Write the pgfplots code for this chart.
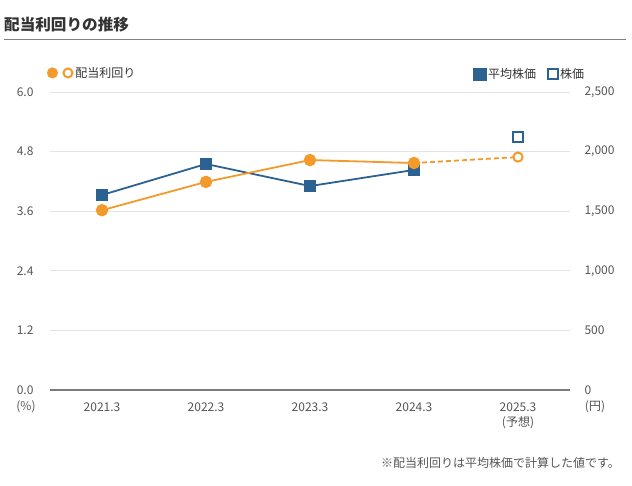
\documentclass[border=0pt]{standalone}
\usepackage{fontspec}
\setmainfont{Noto Sans CJK JP}
\usepackage{pgfplots}
\pgfplotsset{compat=1.18}
\definecolor{dyorange}{HTML}{F39A2B}
\definecolor{pblue}{HTML}{2C6291}
\definecolor{txtgray}{HTML}{555555}
\definecolor{gridgray}{HTML}{E3E3E3}
\definecolor{axgray}{HTML}{7A7A7A}
\begin{document}
\begin{tikzpicture}[x=1pt,y=1pt]
\path[use as bounding box] (0,0) rectangle (632,485);
\node[anchor=west, font=\fontsize{15.6}{18}\selectfont\bfseries, text=black!80, inner sep=0pt] at (4,460) {配当利回りの推移};
\draw[black!50, line width=1pt] (4,445) -- (626,445);
\pgfplotsset{myax/.style={
  scale only axis, width=520pt, height=298pt, at={(50pt,95pt)}, anchor=south west,
  xmin=-0.5, xmax=4.5, major tick length=0pt,
  tick label style={font=\fontsize{12}{15}\selectfont, text=txtgray},
  /pgf/number format/assume math mode=true,
  legend style={draw=none, fill=none, font=\fontsize{12}{14}\selectfont, text=black!80},
}}
% price axis (right)
\begin{axis}[myax,
  ymin=0, ymax=2500, ytick={0,500,1000,1500,2000,2500},
  axis y line*=right, y axis line style={draw=none},
  axis x line*=bottom, x axis line style={axgray, line width=1.8pt, -},
  xtick={0,1,2,3,4}, xticklabels={2021.3,2022.3,2023.3,2024.3,{2025.3\\(予想)}},
  xticklabel style={align=center, yshift=-9pt},
  yticklabel style={anchor=west, xshift=11pt},
  /pgf/number format/1000 sep={,},
  ymajorgrids, grid style={gridgray, line width=0.8pt},
  legend columns=2,
  legend style={at={(1.037,1.06)}, anchor=east,
    /tikz/every odd column/.append style={column sep=0pt},
    /tikz/every even column/.append style={column sep=10pt}},
  legend cell align=left,
]
\addlegendimage{only marks, mark=square*, mark size=6.3pt, pblue}
\addlegendentry{平均株価}
\addlegendimage{only marks, mark=square, mark size=5pt, pblue, mark options={line width=2pt, fill=white}}
\addlegendentry{株価}
\addplot[pblue, line width=1.8pt, mark=square*, mark size=5.4pt, forget plot] coordinates {(0,1636)(1,1896)(2,1711)(3,1846)};
\addplot[only marks, pblue, mark=square, mark size=5pt, mark options={line width=2pt, fill=white}, forget plot] coordinates {(4,2122)};
\end{axis}
% yield axis (left)
\begin{axis}[myax,
  ymin=0, ymax=6, ytick={0,1.2,2.4,3.6,4.8,6},
  axis y line*=left, y axis line style={draw=none},
  axis x line=none,
  yticklabel style={anchor=east, xshift=-13pt, /pgf/number format/.cd, fixed, fixed zerofill, precision=1},
  legend style={at={(-0.012,1.064)}, anchor=west},
]
\addlegendimage{legend image code/.code={
  \fill[dyorange] (0pt,0pt) circle (5.3pt);
  \draw[dyorange, fill=white, line width=2pt] (15.5pt,0pt) circle (4.5pt);}}
\addlegendentry{配当利回り}
\addplot[dyorange, line width=1.8pt, dash pattern=on 5pt off 3pt, forget plot] coordinates {(3,4.57)(4,4.69)};
\addplot[dyorange, line width=1.8pt, mark=*, mark size=5.3pt, forget plot] coordinates {(0,3.62)(1,4.19)(2,4.63)(3,4.57)};
\addplot[only marks, dyorange, mark=*, mark size=4.6pt, mark options={line width=2pt, fill=white}, forget plot] coordinates {(4,4.69)};
\end{axis}
\node[font=\fontsize{12}{14}\selectfont, text=txtgray] at (26,78) {(\%)};
\node[font=\fontsize{12}{14}\selectfont, text=txtgray] at (595,78) {(円)};
\node[anchor=east, font=\fontsize{12}{14}\selectfont, text=txtgray, inner sep=0pt] at (620,22) {※配当利回りは平均株価で計算した値です。};
\end{tikzpicture}
\end{document}
